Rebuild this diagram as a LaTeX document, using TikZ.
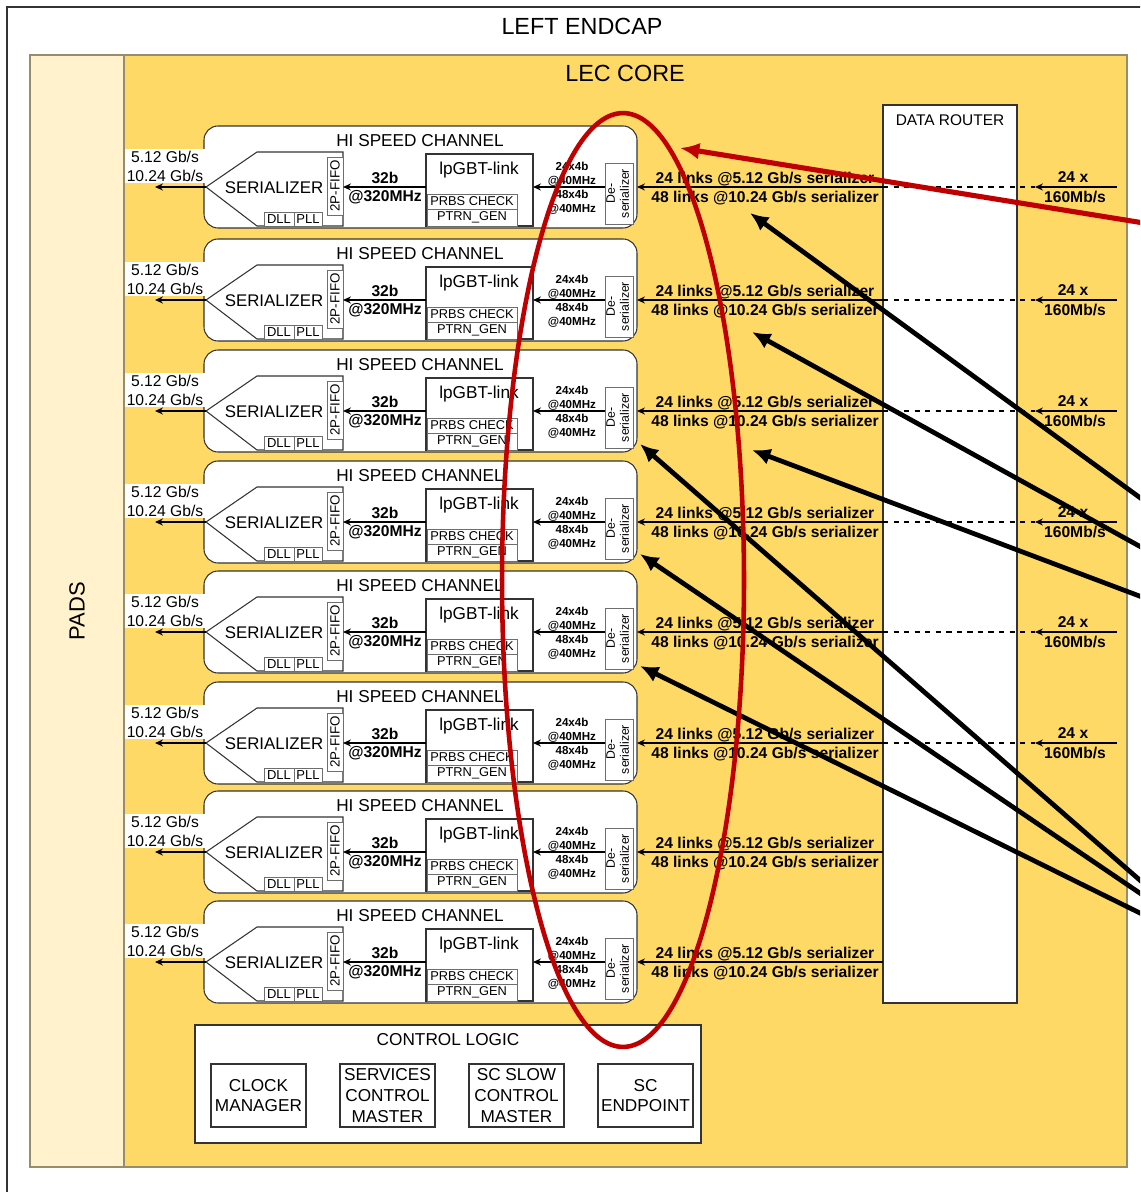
\documentclass[tikz,border=0pt]{standalone}
\usepackage{fontspec}
\setmainfont{Liberation Sans}
\setsansfont{Liberation Sans}
\usetikzlibrary{arrows.meta}
\definecolor{corefill}{HTML}{FFD966}
\definecolor{padfill}{HTML}{FFF2CC}
\definecolor{coreline}{RGB}{150,140,110}
\definecolor{boxline}{HTML}{333333}
\definecolor{subline}{HTML}{6E6E6E}
\definecolor{markred}{HTML}{C00000}
\newcommand\fsz[2]{\fontsize{#1}{#2}\selectfont}

\begin{document}
\begin{tikzpicture}[x=0.02cm, y=-0.02cm, font=\sffamily,
  >={Stealth[length=4.5pt,width=4pt]},
  every node/.style={inner sep=0pt, outer sep=0pt, align=center},
  sz/.style 2 args={minimum width=#1*0.02cm, minimum height=#2*0.02cm},
  blk/.style={draw=boxline, line width=0.6pt, fill=white, anchor=north west},
  sub/.style={draw=subline, line width=0.5pt, fill=white, anchor=north west},
  sig/.style={->, line width=0.8pt},
  bigarrow/.style={-{Latex[length=10.5pt,width=9.5pt]}, line width=2.7pt},
  redarrow/.style={-{Latex[length=11pt,width=9.5pt]}, line width=2.9pt, draw=markred},
  lbl/.style={font=\bfseries\fsz{8.9}{10.7}},
  ratelbl/.style={font=\bfseries\fsz{6.6}{7.9}}]
  \clip (0,0) rectangle (1140,1192);
  \draw[boxline, line width=0.7pt] (7,7) rectangle (1200,1250);
  \node[font=\fsz{13.3}{16}] (endcap) at (582,26) {LEFT ENDCAP};
  \node[draw=coreline, fill=padfill, line width=0.6pt, sz={94}{1112}, anchor=north west] (pads) at (30,55) {};
  \node[rotate=90, font=\fsz{12.5}{15}] at (pads.center) {PADS};
  \node[draw=coreline, fill=corefill, line width=0.6pt, sz={1003}{1112}, anchor=north west] (core) at (124,55) {};
  \node[font=\fsz{13.3}{16}] at (625,73) {LEC CORE};
  \node[blk, sz={134}{898}] (router) at (883,105) {};
  \node[font=\fsz{8.8}{10.6}] at (950,120) {DATA ROUTER};

  \foreach \i/\t in {1/126,2/239,3/350,4/461,5/571,6/682,7/791,8/901}{
    \coordinate (lv\i) at (0,\t+61);
    \node[blk, rounded corners=8pt, sz={433}{102}] (ch\i) at (204,\t) {};
    \node[font=\fsz{9.8}{11.8}] at (420,\t+15) {HI SPEED CHANNEL};
    \draw[boxline, line width=0.6pt] (206,\t+61) coordinate (tip\i) -- (257,\t+26) -- (343,\t+26) -- (343,\t+100) -- (257,\t+100) -- cycle;
    \node[font=\fsz{9.6}{11.5}] at (274,\t+62) {SERIALIZER};
    \node[sub, sz={16}{58}, font=\fsz{7.6}{9}] (fifo\i) at (327,\t+31) {\rotatebox{90}{2P-FIFO}};
    \node[sub, sz={30}{14}, font=\fsz{7.4}{9}] at (264,\t+86) {DLL};
    \node[sub, sz={28}{14}, font=\fsz{7.4}{9}] at (294,\t+86) {PLL};
    \node[blk, sz={107}{72}] (gbt\i) at (426,\t+28) {};
    \node[font=\fsz{9.8}{11.8}] at (479,\t+44) {lpGBT-link};
    \node[sub, sz={90}{15}, font=\fsz{7.3}{9}] at (427,\t+68) {PRBS CHECK};
    \node[sub, sz={90}{17}, font=\fsz{7.3}{9}] at (427,\t+83) {PTRN\_GEN};
    \node[sub, sz={28}{61}, font=\fsz{7}{8}] (des\i) at (605,\t+37) {\rotatebox{90}{\begin{tabular}{@{}c@{}}De-\\serializer\end{tabular}}};
    \draw[sig] (des\i.west |- lv\i) -- (gbt\i.east |- lv\i);
    \node[ratelbl] at (572,\t+48) {24x4b\\@40MHz};
    \node[ratelbl] at (572,\t+76) {48x4b\\@40MHz};
    \draw[sig] (gbt\i.west |- lv\i) -- (fifo\i.east |- lv\i);
    \node[lbl] at (385,\t+52) {32b};
    \node[lbl] at (385,\t+71) {@320MHz};
    \coordinate (out\i) at (155,\t+61);
    \draw[sig] (tip\i) -- (out\i);
    \node[fill=white, inner sep=0.8pt, font=\fsz{8.9}{10.8}] at (165,\t+40) {5.12 Gb/s\\10.24 Gb/s};
    \draw[sig] (router.west |- lv\i) -- (ch\i.east |- lv\i);
    \node[lbl] at (765,\t+53) {24 links @5.12 Gb/s serializer};
    \node[lbl] at (765,\t+72) {48 links @10.24 Gb/s serializer};
    \ifnum\i<7
      \coordinate (in\i) at (1117,\t+61);
      \coordinate (dr\i) at (1035,\t+61);
      \draw[sig] (in\i) -- (dr\i);
      \draw[dashed, line width=0.6pt] (router.west |- lv\i) -- (dr\i);
      \node[lbl] at (1073,\t+51) {24 x};
      \node[lbl] at (1075,\t+71) {160Mb/s};
    \fi
  }

  \node[blk, sz={506}{118}] (ctrl) at (195,1025) {};
  \node[font=\fsz{9.8}{11.8}] at (448,1040) {CONTROL LOGIC};
  \foreach \j/\x/\txt in {1/211/{CLOCK\\MANAGER},2/340/{SERVICES\\CONTROL\\MASTER},3/469/{SC SLOW\\CONTROL\\MASTER},4/598/{SC\\ENDPOINT}}
    \node[blk, sz={95}{63}, font=\fsz{9.8}{11.8}] (cl\j) at (\x,1064) {\txt};

  \foreach \n/\sx/\sy/\ex/\ey in {1/1150/505/750/213,2/1150/552/752/332,3/1150/600/752/450,4/1150/889/640/444,5/1150/900/640/554,6/1150/918/640/666}{
    \coordinate (src\n) at (\sx,\sy);
    \coordinate (dst\n) at (\ex,\ey);
    \draw[bigarrow] (src\n) -- (dst\n);
  }
  \draw[markred, line width=2.6pt] (623,580) ellipse [x radius=2.42cm, y radius=9.34cm];
  \coordinate (redsrc) at (1150,224);
  \coordinate (reddst) at (680,148);
  \draw[redarrow] (redsrc) -- (reddst);
\end{tikzpicture}
\end{document}
